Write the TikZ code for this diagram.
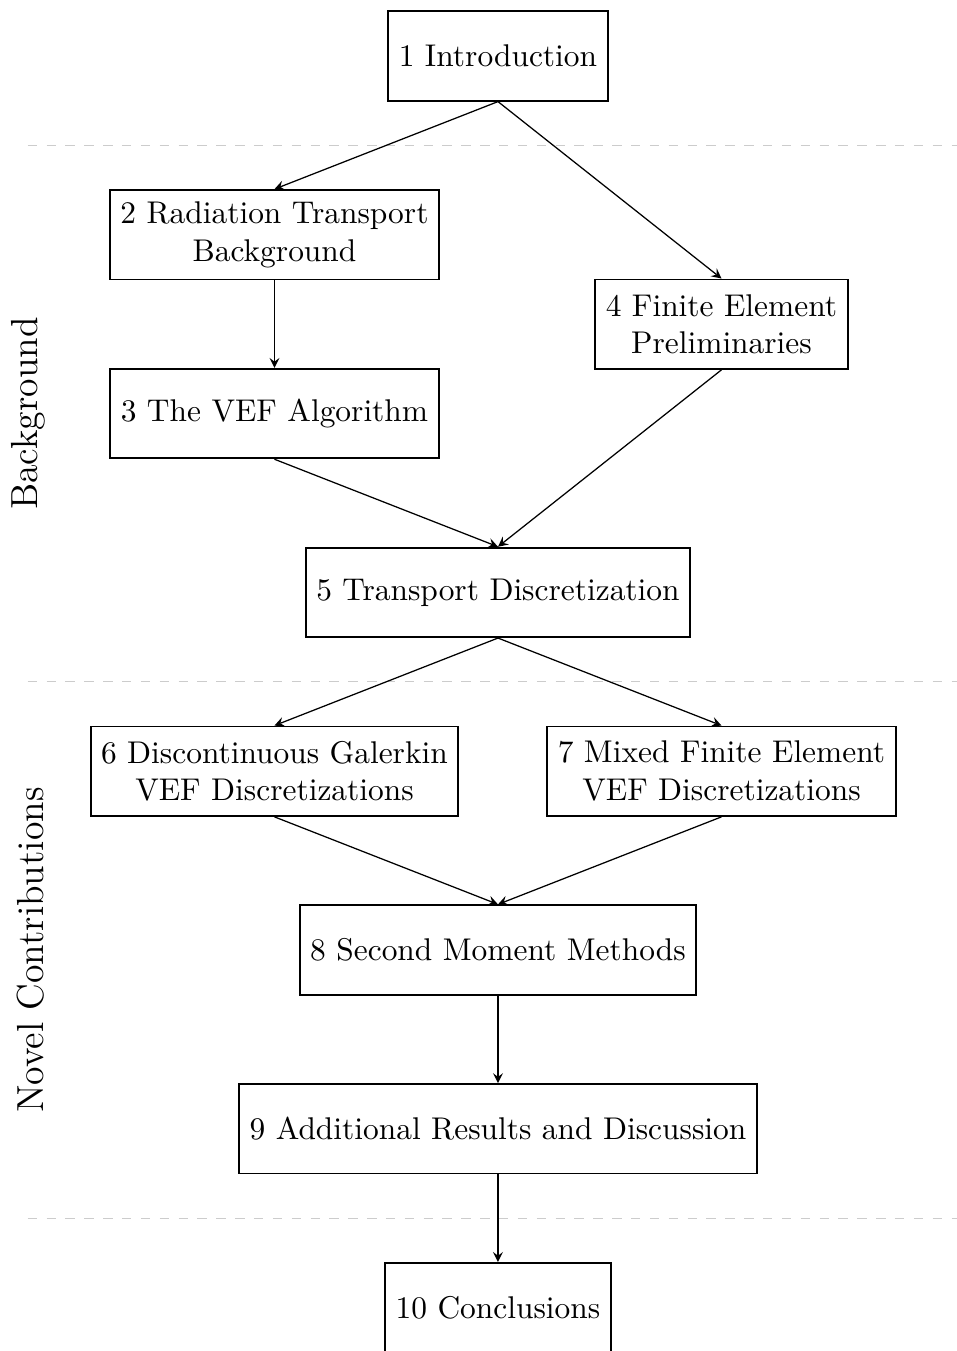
\documentclass[tikz,border=0pt]{standalone}
\begin{document}
\begin{tikzpicture}[
  chap/.style={draw, semithick, rectangle, minimum height=1cm, align=center, fill=white},
  arr/.style={-stealth},
  sep/.style={dashed, gray!40, thin},
  side/.style={rotate=90, font=\large}
]
\useasboundingbox (-5.570,0.626) rectangle (5.123,-14.485);
\draw[sep] (-5.26,-1) -- (5.3,-1);
\draw[sep] (-5.26,-7) -- (5.3,-7);
\draw[sep] (-5.26,-13) -- (5.3,-13);
\node[chap] (c1) at (0,0) {1 Introduction};
\node[chap] (c2) at (-2.5,-2) {2 Radiation Transport\\Background};
\node[chap] (c3) at (-2.5,-4) {3 The VEF Algorithm};
\node[chap] (c4) at (2.5,-3) {4 Finite Element\\Preliminaries};
\node[chap] (c5) at (0,-6) {5 Transport Discretization};
\node[chap] (c6) at (-2.5,-8) {6 Discontinuous Galerkin\\VEF Discretizations};
\node[chap] (c7) at (2.5,-8) {7 Mixed Finite Element\\VEF Discretizations};
\node[chap] (c8) at (0,-10) {8 Second Moment Methods};
\node[chap] (c9) at (0,-12) {9 Additional Results and Discussion};
\node[chap] (c10) at (0,-14) {10 Conclusions};
\node[side] (lb) at (-5.25,-4) {Background};
\node[side] (ln) at (-5.23,-10) {Novel Contributions};
\draw[arr] (c1.south) -- (c2.north);
\draw[arr] (c1.south) -- (c4.north);
\draw[arr] (c2.south) -- (c3.north);
\draw[arr] (c3.south) -- (c5.north);
\draw[arr] (c4.south) -- (c5.north);
\draw[arr] (c5.south) -- (c6.north);
\draw[arr] (c5.south) -- (c7.north);
\draw[arr] (c6.south) -- (c8.north);
\draw[arr] (c7.south) -- (c8.north);
\draw[arr] (c8.south) -- (c9.north);
\draw[arr] (c9.south) -- (c10.north);
\end{tikzpicture}
\end{document}
